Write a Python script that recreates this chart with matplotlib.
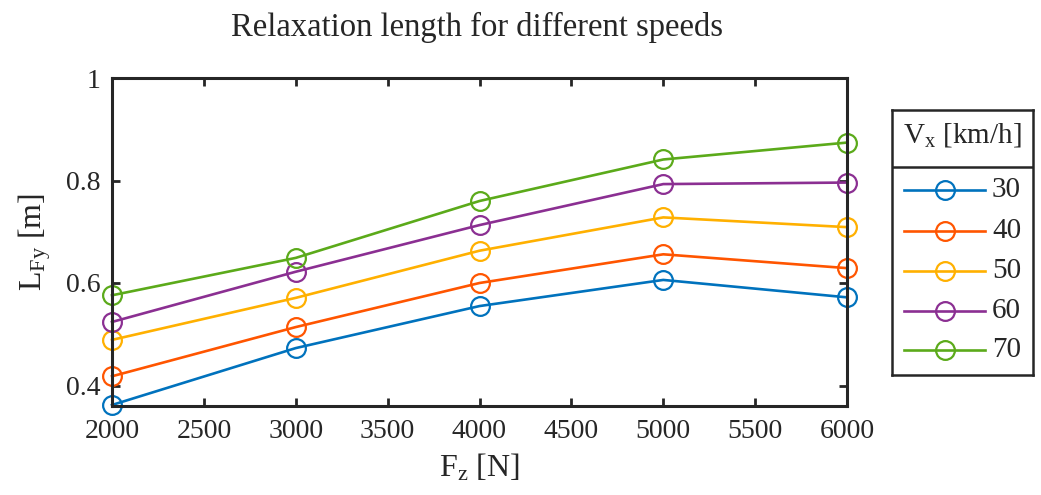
import matplotlib
matplotlib.use("Agg")
import matplotlib.pyplot as plt

plt.rcParams['font.family'] = ['Liberation Serif', 'DejaVu Serif']
plt.rcParams['mathtext.fontset'] = 'custom'
plt.rcParams['mathtext.rm'] = 'Liberation Serif'
plt.rcParams['mathtext.it'] = 'Liberation Serif:italic'

# data
fz = [2000, 3000, 4000, 5000, 6000]
speeds = ['30', '40', '50', '60', '70']
L_30 = [0.362, 0.473, 0.555, 0.606, 0.572]
L_40 = [0.418, 0.514, 0.600, 0.656, 0.629]
L_50 = [0.489, 0.571, 0.663, 0.728, 0.709]
L_60 = [0.524, 0.622, 0.713, 0.793, 0.796]
L_70 = [0.576, 0.649, 0.760, 0.841, 0.874]
series = [L_30, L_40, L_50, L_60, L_70]
colors = ['#0072BD', '#FF5500', '#FFB000', '#8B2F92', '#5BAA1A']

txt = '#262626'
W, H = 1041, 495

fig = plt.figure(figsize=(W / 100, H / 100), dpi=100)
ax = fig.add_axes([112 / W, 1 - 406 / H, (847 - 112) / W, (406 - 78) / H])

line_kw = dict(linewidth=1.9, marker='o', markersize=13.5,
               markerfacecolor='none', markeredgewidth=1.6)

for vals, c, lab in zip(series, colors, speeds):
    ax.plot(fz, vals, color=c, label=lab, clip_on=False, **line_kw)

ax.set_xlim(2000, 6000)
ax.set_ylim(0.36, 1.0)
ax.set_xticks(range(2000, 6001, 500))
ax.set_yticks([0.4, 0.6, 0.8, 1.0])
ax.set_yticklabels(['0.4', '0.6', '0.8', '1'])
ax.tick_params(direction='in', length=6, width=2, top=True, right=True,
               labelsize=20, colors=txt)
ax.tick_params(axis='x', pad=9)
ax.tick_params(axis='y', pad=8)
for s in ax.spines.values():
    s.set_linewidth(2.2)
    s.set_color(txt)

ax.text(0.497, 1 + (78 - 27) / 328, 'Relaxation length for different speeds',
        transform=ax.transAxes, ha='center', va='center', fontsize=23.5, color=txt)
ax.set_xlabel(r'$\mathrm{F}_{\mathrm{z}}$ [N]', fontsize=23, color=txt)
ax.set_ylabel(r'$\mathrm{L}_{\mathrm{Fy}}$ [m]', fontsize=23, color=txt)
ax.xaxis.set_label_coords(0.5, -(468 - 406) / 328)
ax.yaxis.set_label_coords(-(112 - 35) / 735, 0.5)
ax.xaxis.label.set_va('center')
ax.yaxis.label.set_va('center')

# legend box drawn in its own axes, pixel coordinates
lax = fig.add_axes([892 / W, 1 - 375 / H, (1033 - 892) / W, (375 - 110) / H])
lax.set_xlim(0, 141)
lax.set_ylim(265, 0)
lax.set_xticks([])
lax.set_yticks([])
for s in lax.spines.values():
    s.set_linewidth(1.8)
    s.set_color(txt)
lax.axhline(57, color=txt, linewidth=1.8)
lax.text(70, 25, r'$\mathrm{V}_{\mathrm{x}}$ [km/h]', ha='center', va='center',
         fontsize=21, color=txt)
row_y = [80, 121, 161, 201, 240]
for ry, c, lab in zip(row_y, colors, speeds):
    lax.plot([12, 93], [ry, ry], color=c, linewidth=1.9)
    lax.plot([53], [ry], color=c, **line_kw)
    lax.text(100, ry, lab, ha='left', va='center', fontsize=21, color=txt)

fig.savefig('out.png', dpi=100)
